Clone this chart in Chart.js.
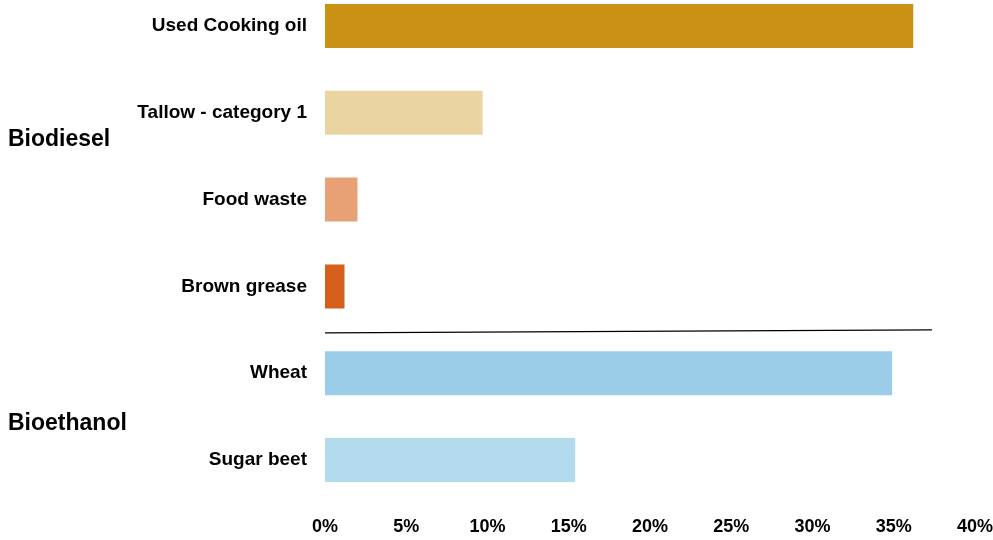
<!DOCTYPE html>
<html>
<head>
<meta charset="utf-8">
<script src="https://cdn.jsdelivr.net/npm/chart.js@4"></script>
<style>
    html, body { margin: 0; padding: 0; background: #fff; }
    #wrap { position: relative; width: 993px; height: 540px; overflow: hidden; }
    #wrap canvas { position: absolute; left: 0; top: -18px; }
</style>
</head>
<body>
<div id="wrap"><canvas id="feedstockChart" width="993" height="558"></canvas></div>
<script>
// Feedstock shares
const feedstocks = ['Used Cooking oil', 'Tallow - category 1', 'Food waste', 'Brown grease', 'Wheat', 'Sugar beet'];
const shares = [36.2, 9.7, 2.0, 1.2, 34.9, 15.4];
const barColors = ['#C99215', '#E9D4A2', '#E7A175', '#D65F1B', '#9BCDE9', '#B4DAEE'];
const xTicks = [0, 5, 10, 15, 20, 25, 30, 35, 40];

// Fuel groups: label and its vertical position on the category axis
const groupNames = ['Biodiesel', 'Bioethanol'];
const groupPos = [1.31, 4.585];

const FONT = '"Liberation Sans", Arial, sans-serif';

// group titles + separator between biodiesel and bioethanol
const groupPlugin = {
    id: 'groups',
    afterDraw(chart) {
        const ctx = chart.ctx;
        const x = chart.scales.x;
        const y = chart.scales.y;
        ctx.save();
        ctx.fillStyle = '#000';
        ctx.font = 'bold 23px ' + FONT;
        ctx.textAlign = 'left';
        ctx.textBaseline = 'middle';
        groupNames.forEach((name, i) => {
            ctx.fillText(name, 8, y.getPixelForValue(groupPos[i]));
        });
        ctx.strokeStyle = '#000';
        ctx.lineWidth = 1.2;
        ctx.beginPath();
        ctx.moveTo(x.getPixelForValue(0), y.getPixelForValue(3.535));
        ctx.lineTo(x.getPixelForValue(37.35), y.getPixelForValue(3.5));
        ctx.stroke();
        ctx.restore();
    }
};

const ctx = document.getElementById('feedstockChart').getContext('2d');
const feedstockChart = new Chart(ctx, {
    type: 'bar',
    data: {
        labels: feedstocks,
        datasets: [{
            data: shares,
            backgroundColor: barColors,
            borderWidth: 0,
            barPercentage: 0.507,
            categoryPercentage: 1
        }]
    },
    options: {
        indexAxis: 'y',
        responsive: false,
        animation: false,
        layout: { padding: { left: 0, right: 18, top: 0.6, bottom: 0 } },
        plugins: {
            legend: { display: false },
            tooltip: { enabled: false }
        },
        scales: {
            x: {
                min: 0,
                max: 40,
                grid: { display: false },
                border: { display: false },
                afterBuildTicks(scale) {
                    scale.ticks = xTicks.map(v => ({ value: v }));
                },
                afterFit(scale) {
                    scale.height = 36.6;
                    scale.paddingLeft = 0;
                    scale.paddingRight = 0;
                },
                ticks: {
                    color: '#000',
                    padding: 5,
                    maxRotation: 0,
                    font: { family: FONT, size: 18, weight: 'bold' },
                    callback: v => v + '%'
                }
            },
            y: {
                grid: { display: false },
                border: { display: false },
                afterFit(scale) {
                    scale.width = 325;
                    scale.paddingTop = 0;
                    scale.paddingBottom = 0;
                },
                ticks: {
                    color: '#000',
                    padding: 10,
                    font: { family: FONT, size: 19, weight: 'bold' }
                }
            }
        }
    },
    plugins: [groupPlugin]
});
</script>
</body>
</html>
